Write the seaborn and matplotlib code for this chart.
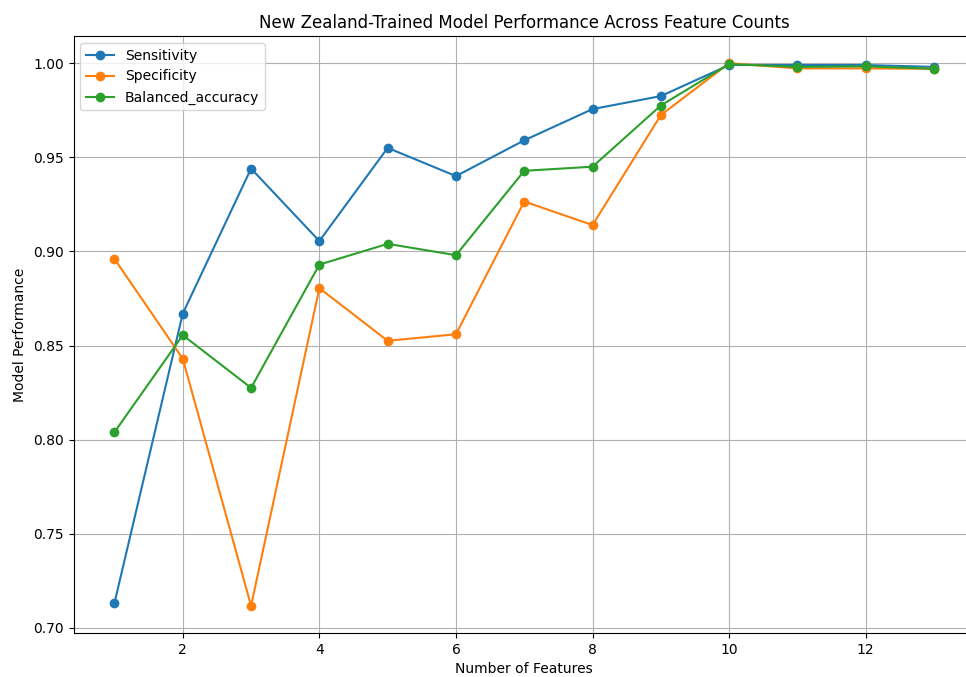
import matplotlib
matplotlib.use("Agg")
import matplotlib.pyplot as plt
import seaborn as sns
import pandas as pd

features = list(range(1, 14))
sensitivity = [0.7133, 0.867, 0.944, 0.9055, 0.955, 0.940, 0.959, 0.9756, 0.9825, 0.999, 0.999, 0.999, 0.998]
specificity = [0.896, 0.843, 0.7117, 0.8805, 0.8525, 0.856, 0.9265, 0.914, 0.9724, 1.000, 0.9972, 0.9972, 0.997]
balanced_accuracy = [0.804, 0.8555, 0.8275, 0.893, 0.904, 0.898, 0.9428, 0.945, 0.9775, 0.9995, 0.998, 0.9983, 0.997]

df = pd.DataFrame({
    "Number of Features": features * 3,
    "Model Performance": sensitivity + specificity + balanced_accuracy,
    "Metric": ["Sensitivity"] * 13 + ["Specificity"] * 13 + ["Balanced_accuracy"] * 13,
})

fig, ax = plt.subplots(figsize=(9.66, 6.77), dpi=100)
sns.lineplot(data=df, x="Number of Features", y="Model Performance", hue="Metric",
             marker="o", markersize=7, markeredgewidth=0, linewidth=1.5, ax=ax,
             palette=["#1f77b4", "#ff7f0e", "#2ca02c"])
ax.set_title("New Zealand-Trained Model Performance Across Feature Counts")
ax.set_xlabel("Number of Features")
ax.set_ylabel("Model Performance")
ax.grid(True)
ax.legend(title=None, loc="upper left")
fig.subplots_adjust(left=0.0761, right=1.0093, top=0.9468, bottom=0.0650)
fig.savefig("out.png", dpi=100)
